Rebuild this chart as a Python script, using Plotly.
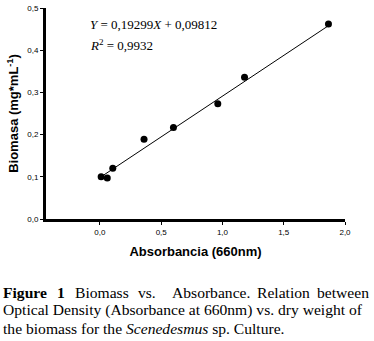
import plotly.graph_objects as go

absorbance = [0.01, 0.06, 0.105, 0.36, 0.60, 0.962, 1.18, 1.865]
biomass = [0.100, 0.097, 0.120, 0.189, 0.217, 0.273, 0.336, 0.462]
slope = 0.19299
intercept = 0.09812
r2 = 0.9932
fit_x = [0.01, 1.865]
fit_y = [slope * v + intercept for v in fit_x]

x_ticks = [0.0, 0.5, 1.0, 1.5, 2.0]
y_ticks = [0.0, 0.1, 0.2, 0.3, 0.4, 0.5]

caption_line1 = ["<b>Figure</b>", "<b>1</b>", "Biomass", "vs.", "Absorbance.", "Relation", "between"]
caption_line2 = "Optical Density (Absorbance at 660nm) vs. dry weight of"
caption_line3 = "the biomass for the <i>Scenedesmus</i> sp. Culture."

W, H = 374, 341
L, R, T, B = 46, 29, 8, 122
pw, ph = W - L - R, H - T - B


def px(xp):
    return (xp - L) / pw


def py(yp):
    return (H - B - yp) / ph


fig = go.Figure()
fig.add_trace(go.Scatter(x=fit_x, y=fit_y, mode="lines",
                         line=dict(color="black", width=1), showlegend=False))
fig.add_trace(go.Scatter(x=absorbance, y=biomass, mode="markers",
                         marker=dict(color="black", size=7), showlegend=False))

axis_common = dict(showline=True, linecolor="black", linewidth=3, ticks="outside",
                   ticklen=3, tickwidth=1, tickcolor="black", showgrid=False,
                   zeroline=False, automargin=False,
                   tickfont=dict(family="Arial", size=8, color="black"),
                   tickformat=".1f")
fig.update_xaxes(range=[-0.44, 2.0], tickvals=x_ticks, **axis_common,
                 title=dict(text="<b>Absorbancia (660nm)</b>",
                            font=dict(family="Arial", size=13, color="black"), standoff=12))
fig.update_yaxes(range=[0, 0.5], tickvals=y_ticks, **axis_common,
                 title=dict(text="<b>Biomasa (mg*mL<sup>-1</sup>)</b>",
                            font=dict(family="Arial", size=13, color="black"), standoff=6))

serif = dict(family="Liberation Serif", size=13, color="black")
fig.add_annotation(x=px(88), y=py(24), xref="paper", yref="paper", xanchor="left", yanchor="middle",
                   text=f"<i>Y</i> = {str(slope).replace('.', ',')}<i>X</i> + {str(intercept).replace('.', ',')}",
                   showarrow=False, font=serif)
fig.add_annotation(x=px(88), y=py(45), xref="paper", yref="paper", xanchor="left", yanchor="middle",
                   text=f"<i>R</i><sup>2</sup> = {str(r2).replace('.', ',')}", showarrow=False, font=serif)

cap = dict(family="Liberation Serif", size=15.6, color="black")
word_x = [4, 58, 76, 139, 173, 258, 318]
for w, xw in zip(caption_line1, word_x):
    fig.add_annotation(xref="paper", yref="paper", x=px(xw), y=py(292), xanchor="left", yanchor="middle",
                       text=w, showarrow=False, font=cap, xshift=-3)
fig.add_annotation(xref="paper", yref="paper", x=px(4), y=py(310), xanchor="left", yanchor="middle",
                   text=caption_line2, showarrow=False, font=cap, xshift=-3)
fig.add_annotation(xref="paper", yref="paper", x=px(4), y=py(328), xanchor="left", yanchor="middle",
                   text=caption_line3, showarrow=False, font=cap, xshift=-3)

fig.update_layout(width=W, height=H, margin=dict(l=L, r=R, t=T, b=B),
                  plot_bgcolor="white", paper_bgcolor="white", separators=",.")
fig.write_html("out.html", post_script="document.body.style.margin='0px';",
               config={"displayModeBar": False})
